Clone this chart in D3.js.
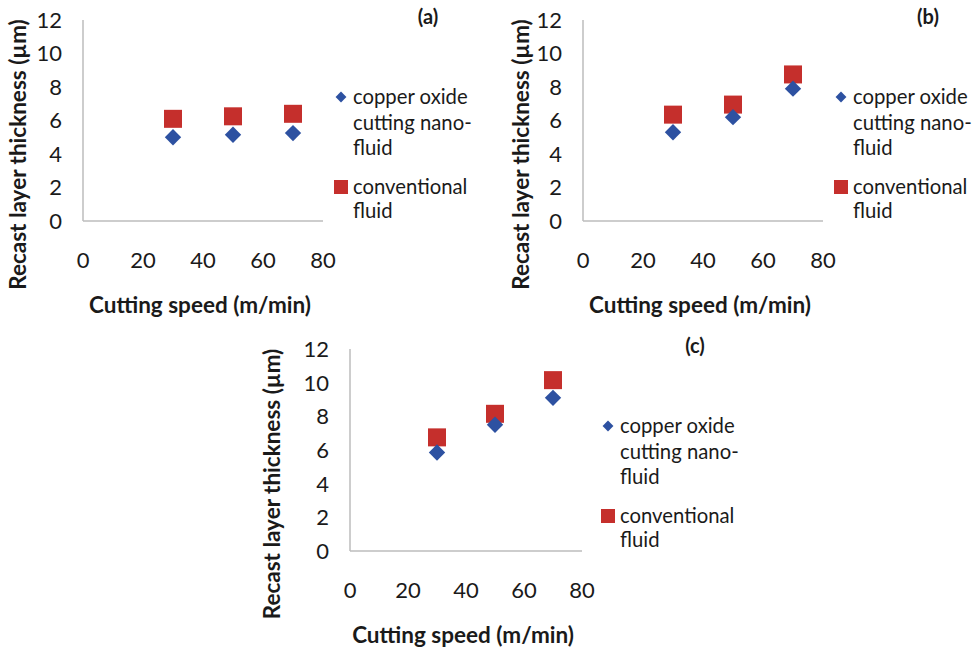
<!DOCTYPE html>
<html lang="en">

<head>
    <meta charset="utf-8">
    <title>Recast layer thickness vs cutting speed</title>
    <script type="text/javascript" src="https://cdn.jsdelivr.net/npm/d3@7"></script>
    <style type="text/css">
        body {
            margin: 0;
            background: #fff;
        }

        text {
            font-family: Lato, "Open Sans", sans-serif;
            fill: #1a1a1a;
        }

        .tick-label {
            font-size: 22px;
        }

        .axis-title {
            font-size: 22.5px;
            font-weight: bold;
        }

        .legend-text {
            font-size: 20.3px;
        }
    </style>
</head>

<body>
    <script type="text/javascript">
        // cutting speeds (m/min)
        var speeds = [30, 50, 70];
        var xTicks = [0, 20, 40, 60, 80];
        var yTicks = [0, 2, 4, 6, 8, 10, 12];

        // recast layer thickness (um)
        var copperA = [5.0, 5.15, 5.25];
        var convA = [6.1, 6.25, 6.4];
        var copperB = [5.3, 6.2, 7.9];
        var convB = [6.35, 6.95, 8.75];
        var copperC = [5.85, 7.5, 9.1];
        var convC = [6.75, 8.15, 10.15];

        var legendLines = [["copper oxide", "cutting nano-", "fluid"], ["conventional", "fluid"]];

        var blue = "#2d51a1";
        var red = "#c52f2c";

        var w = 972;
        var h = 652;

        var svg = d3.select("body")
            .append("svg")
            .attr("width", w)
            .attr("height", h);

        // panel placement
        var panels = [
            { label: "(a)", copper: copperA, conv: convA, left: 83, top: 20, pw: 240, ph: 201, yTitleX: 18 },
            { label: "(b)", copper: copperB, conv: convB, left: 583, top: 20, pw: 240, ph: 201, yTitleX: 521 },
            { label: "(c)", copper: copperC, conv: convC, left: 350, top: 349, pw: 232, ph: 202, yTitleX: 272 }
        ];

        panels.forEach(function (p) {
            drawPanel(p);
        });

        function drawPanel(p) {
            var g = svg.append("g")
                .attr("transform", "translate(" + p.left + "," + p.top + ")");

            var xScale = d3.scaleLinear()
                .domain([0, 80])
                .range([0, p.pw]);

            var yScale = d3.scaleLinear()
                .domain([0, 12])
                .range([p.ph, 0]);

            // axis lines
            g.append("line")
                .attr("x1", 0).attr("x2", 0)
                .attr("y1", yScale(0)).attr("y2", yScale(12))
                .attr("stroke", "#bdbdbd")
                .attr("stroke-width", 1.5);

            g.append("line")
                .attr("x1", 0).attr("x2", xScale(80))
                .attr("y1", yScale(0)).attr("y2", yScale(0))
                .attr("stroke", "#bdbdbd")
                .attr("stroke-width", 1.5);

            // tick labels
            g.selectAll(".ytick")
                .data(yTicks)
                .enter().append("text")
                .attr("class", "tick-label")
                .attr("x", -21)
                .attr("y", d => yScale(d))
                .attr("dy", "0.36em")
                .attr("text-anchor", "end")
                .text(d => d);

            g.selectAll(".xtick")
                .data(xTicks)
                .enter().append("text")
                .attr("class", "tick-label")
                .attr("x", d => xScale(d))
                .attr("y", yScale(0) + 39)
                .attr("dy", "0.36em")
                .attr("text-anchor", "middle")
                .text(d => d);

            // axis titles
            g.append("text")
                .attr("class", "axis-title")
                .attr("transform", "translate(" + (p.yTitleX - p.left) + "," + (p.ph / 2 + 34) + ") rotate(-90)")
                .attr("dy", "0.36em")
                .attr("text-anchor", "middle")
                .text("Recast layer thickness (\u00b5m)");

            g.append("text")
                .attr("class", "axis-title")
                .attr("x", xScale(39))
                .attr("y", yScale(0) + 84)
                .attr("dy", "0.36em")
                .attr("text-anchor", "middle")
                .text("Cutting speed (m/min)");

            // panel label
            g.append("text")
                .attr("x", 345)
                .attr("y", -3)
                .attr("dy", "0.36em")
                .attr("text-anchor", "middle")
                .style("font-size", "20px")
                .style("font-weight", "bold")
                .text(p.label);

            // markers
            var diamond = d3.symbol().type(d3.symbolDiamond2).size(170);

            g.selectAll(".conv")
                .data(speeds)
                .enter().append("rect")
                .attr("x", (d) => xScale(d) - 9)
                .attr("y", (d, i) => yScale(p.conv[i]) - 9)
                .attr("width", 18)
                .attr("height", 18)
                .attr("fill", red);

            g.selectAll(".copper")
                .data(speeds)
                .enter().append("path")
                .attr("d", diamond)
                .attr("transform", (d, i) => "translate(" + xScale(d) + "," + yScale(p.copper[i]) + ")")
                .attr("fill", blue);

            // legend
            var leg = g.append("g")
                .attr("transform", "translate(258,77)");

            leg.append("path")
                .attr("d", d3.symbol().type(d3.symbolDiamond2).size(75))
                .attr("fill", blue);

            leg.selectAll(".l0")
                .data(legendLines[0])
                .enter().append("text")
                .attr("class", "legend-text")
                .attr("x", 12)
                .attr("y", (d, i) => i * 25.5)
                .attr("dy", "0.36em")
                .text(d => d);

            leg.append("rect")
                .attr("x", -7).attr("y", 90 - 7)
                .attr("width", 14).attr("height", 14)
                .attr("fill", red);

            leg.selectAll(".l1")
                .data(legendLines[1])
                .enter().append("text")
                .attr("class", "legend-text")
                .attr("x", 12)
                .attr("y", (d, i) => 90 + i * 24)
                .attr("dy", "0.36em")
                .text(d => d);
        }
    </script>
</body>

</html>
